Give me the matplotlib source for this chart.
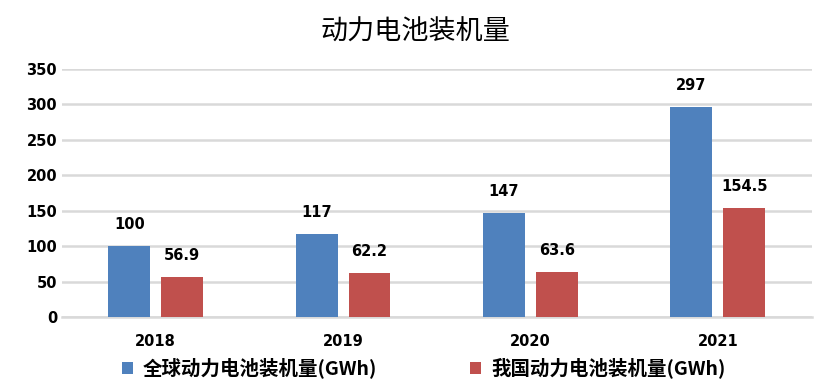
import numpy as np
import matplotlib.pyplot as plt

plt.rcParams['font.family'] = ['Noto Sans CJK SC', 'DejaVu Sans']

years = ["2018", "2019", "2020", "2021"]
global_gwh = [100, 117, 147, 297]
china_gwh = [56.9, 62.2, 63.6, 154.5]
global_labels = ["100", "117", "147", "297"]
china_labels = ["56.9", "62.2", "63.6", "154.5"]

blue = "#4F81BD"
red = "#C0504D"

fig = plt.figure(figsize=(8.31, 3.9), dpi=100)
ax = fig.add_axes([0.0746, 0.187, 0.902, 0.636])

x = np.arange(len(years))
w = 0.224
off = 0.141
b1 = ax.bar(x - off, global_gwh, w, color=blue, label="全球动力电池装机量(GWh)", zorder=3)
b2 = ax.bar(x + off, china_gwh, w, color=red, label="我国动力电池装机量(GWh)", zorder=3)

for bars, labels in ((b1, global_labels), (b2, china_labels)):
    for bar, lab in zip(bars, labels):
        ax.annotate(lab, (bar.get_x() + bar.get_width() / 2, bar.get_height()),
                    xytext=(0, 10), textcoords="offset points",
                    ha="center", va="bottom", fontsize=10.5, fontweight="bold",
                    family="DejaVu Sans")

ax.set_xlim(-0.5, 3.5)
ax.set_ylim(0, 350)
ax.set_yticks(range(0, 351, 50))
ax.set_xticks(x)
ax.set_xticklabels(years)
ax.yaxis.grid(True, color="#d9d9d9", linewidth=1.8, zorder=0)
for s in ("top", "right", "left"):
    ax.spines[s].set_visible(False)
ax.spines["bottom"].set_color("#d9d9d9")
ax.spines["bottom"].set_linewidth(1.8)
ax.tick_params(axis="both", length=0, labelsize=10.5)
ax.tick_params(axis="x", pad=12)
for t in ax.get_xticklabels() + ax.get_yticklabels():
    t.set_fontweight("bold")
    t.set_family("DejaVu Sans")

fig.text(0.5, 0.918, "动力电池装机量", ha="center", va="center", fontsize=19.5)

fig.legend(loc="center", bbox_to_anchor=(0.51, 0.056), ncol=2, frameon=False,
           prop={"size": 14, "weight": "bold"},
           handlelength=0.55, handleheight=0.55, handletextpad=0.5, columnspacing=4.8)

fig.savefig("out.png", dpi=100)
